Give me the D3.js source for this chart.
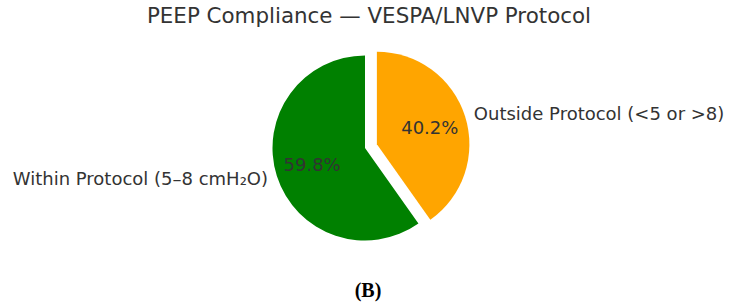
<!DOCTYPE html>
<html><head><meta charset="utf-8">
<script src="https://cdn.jsdelivr.net/npm/d3@7"></script>
<style>body{margin:0;background:#fff}</style>
</head><body>
<svg id="c" width="741" height="305"></svg>
<script>
const categories = ["Within Protocol (5–8 cmH₂O)", "Outside Protocol (<5 or >8)"];
const values = [59.8, 40.2];
const explode = [0, 0.135];
const colors = ["#008000", "#FFA500"];
const title = "PEEP Compliance — VESPA/LNVP Protocol";
const panel = "(B)";

const svg = d3.select("#c");
const cx = 365, cy = 148, r = 92.5;
const font = "DejaVu Sans, sans-serif";

svg.append("text").attr("x", 369).attr("y", 16).attr("dy", "0.35em")
  .attr("text-anchor", "middle").attr("font-family", font).attr("font-size", 21.4)
  .attr("fill", "#333").text(title);

const data = categories.map((c, i) => ({c, v: values[i], e: explode[i], col: colors[i]}));
const pie = d3.pie().value(d => d.v).sort(null).startAngle(0).endAngle(-2 * Math.PI);
const arcs = pie(data);
const arc = d3.arc().innerRadius(0).outerRadius(r);
const g = svg.append("g").attr("transform", `translate(${cx},${cy})`);

arcs.forEach(a => {
  const mid = (a.startAngle + a.endAngle) / 2;
  const off = a.data.e * r;
  const ox = off * Math.sin(mid), oy = -off * Math.cos(mid);
  const s = g.append("g").attr("transform", `translate(${ox},${oy})`);
  s.append("path").attr("d", arc(a)).attr("fill", a.data.col);
  const lx = 1.1 * r * Math.sin(mid), ly = -1.1 * r * Math.cos(mid);
  s.append("text").attr("x", lx).attr("y", ly).attr("dy", "0.35em")
    .attr("text-anchor", lx < 0 ? "end" : "start")
    .attr("font-family", font).attr("font-size", 18).attr("fill", "#333").text(a.data.c);
  const px = 0.6 * r * Math.sin(mid), py = -0.6 * r * Math.cos(mid);
  s.append("text").attr("x", px).attr("y", py).attr("dy", "0.35em")
    .attr("text-anchor", "middle")
    .attr("font-family", font).attr("font-size", 18).attr("fill", "#333")
    .text(a.data.v.toFixed(1) + "%");
});

svg.append("text").attr("x", 368).attr("y", 290).attr("dy", "0.35em")
  .attr("text-anchor", "middle").attr("font-family", "Liberation Serif, Times New Roman, serif")
  .attr("font-weight", "bold").attr("font-size", 20).attr("fill", "#000").text(panel);
</script>
</body></html>
